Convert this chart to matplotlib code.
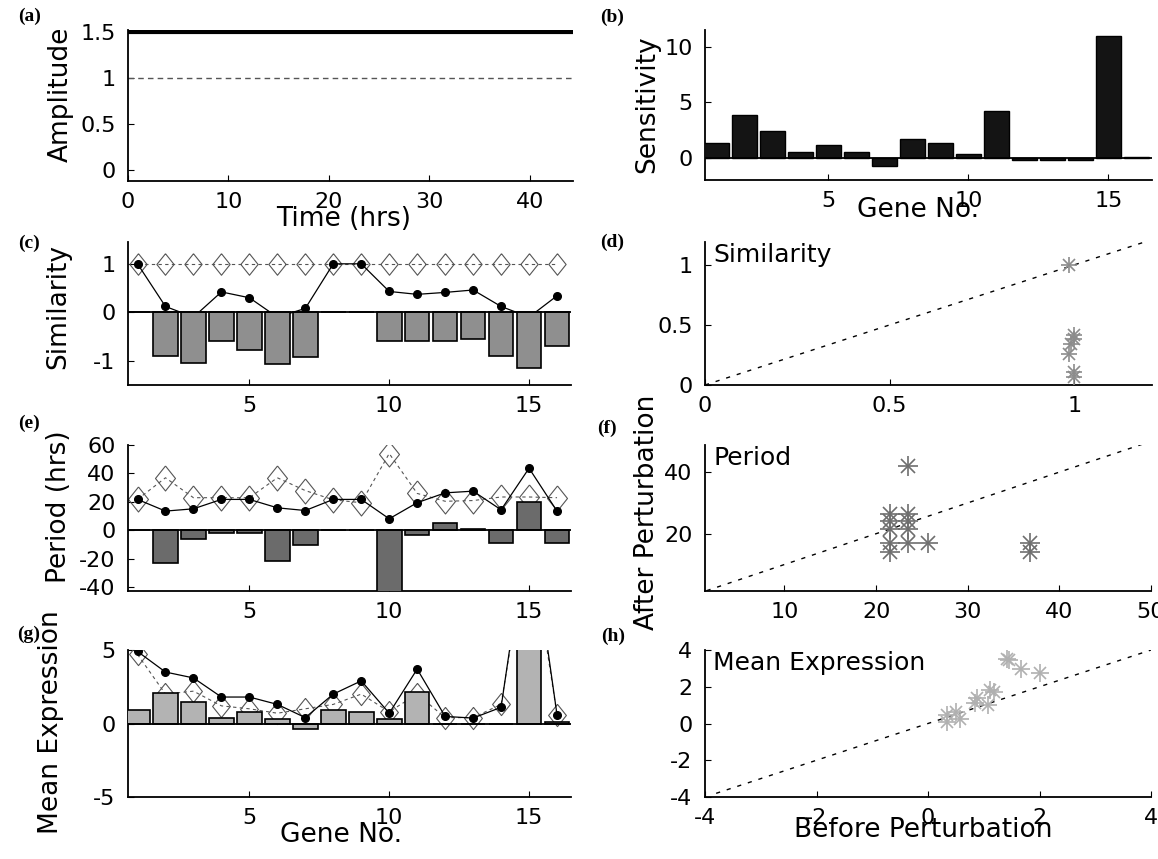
import matplotlib
matplotlib.use('Agg')
import matplotlib.pyplot as plt
import numpy as np
from matplotlib.ticker import FuncFormatter

plt.rcParams['font.family'] = ['DejaVu Sans']

# ---------------- data ----------------
genes = list(range(1, 17))

amp_after = 1.5
amp_before = 1.0

sensitivity = [1.37, 3.86, 2.4, 0.53, 1.17, 0.53, -0.73, 1.7, 1.37, 0.35, 4.24, -0.2, -0.2, -0.2, 10.96, 0.05]

sim_before = [1, 1, 1, 1, 1, 1, 1, 1, 1, 1, 1, 1, 1, 1, 1, 1]
sim_after = [1.0, 0.12, -0.1, 0.42, 0.30, -0.1, 0.08, 1.0, 1.0, 0.43, 0.37, 0.41, 0.46, 0.12, -0.1, 0.34]
sim_change = [0.0, -0.9, -1.04, -0.6, -0.78, -1.07, -0.93, 0.0, 0.0, -0.6, -0.6, -0.6, -0.56, -0.9, -1.15, -0.69]

per_before = [21.8, 37, 23, 23, 23, 37, 28, 21.5, 19.5, 54, 26, 20.5, 21, 23.5, 23.5, 23]
per_after = [21.8, 13.6, 15.2, 21.8, 21.8, 15.9, 14, 21.8, 21.8, 8.2, 19.5, 26.4, 27.6, 14.5, 43.7, 13.6]
per_change = [0, -23, -6, -1.5, -1.5, -21.5, -10, 0, 0, -45, -3.5, 5, 1, -8.5, 20, -8.5]

expr_before = [4.7, 2.0, 2.2, 1.2, 1.0, 0.7, 1.0, 1.3, 2.0, 0.8, 2.0, 0.4, 0.4, 1.3, 13, 0.6]
expr_after = [4.9, 3.5, 3.1, 1.8, 1.8, 1.3, 0.4, 2.0, 2.9, 0.7, 3.7, 0.48, 0.37, 1.1, 14, 0.6]
expr_change = [0.9, 2.1, 1.45, 0.37, 0.76, 0.3, -0.4, 0.92, 0.76, 0.34, 2.15, 0.0, 0.0, 0.0, 11, 0.1]

simsc_x = [0.985, 1.0, 1.0, 0.99, 0.985, 1.0, 1.0]
simsc_y = [1.0, 0.42, 0.38, 0.34, 0.26, 0.11, 0.07]

persc_x = [23.5, 21.5, 23.5, 21.5, 23.5, 21.5, 23.5, 21.5, 23.5, 25.7, 21.5, 36.8, 36.8]
persc_y = [42, 26.4, 26.4, 24.2, 24.2, 21.5, 21.5, 16.9, 16.9, 16.9, 13.9, 16.9, 13.9]

exprsc_x = [1.41, 1.45, 1.67, 2.0, 1.11, 1.18, 0.88, 0.85, 1.08, 0.51, 0.34, 0.57, 0.34]
exprsc_y = [3.53, 3.45, 2.98, 2.75, 1.83, 1.7, 1.37, 1.1, 1.0, 0.64, 0.46, 0.27, 0.09]

# ---------------- figure ----------------
W, H = 1158, 859
fig = plt.figure(figsize=(W / 100, H / 100), dpi=100)

fmt = FuncFormatter(lambda v, p: f'{v:g}')
TICK = 16
LAB = 19
INNER = 18


def add_ax(l, t, r, b):
    ax = fig.add_axes([l / W, 1 - b / H, (r - l) / W, (b - t) / H])
    for s in ('top', 'right'):
        ax.spines[s].set_visible(False)
    for s in ('left', 'bottom'):
        ax.spines[s].set_linewidth(1.3)
    ax.tick_params(direction='in', length=4, width=0.8, labelsize=TICK)
    ax.tick_params(axis='x', pad=8)
    ax.tick_params(axis='y', pad=9)
    ax.xaxis.set_major_formatter(fmt)
    ax.yaxis.set_major_formatter(fmt)
    ax.patch.set_alpha(0)
    return ax


def ftext(x, y, s, **kw):
    fig.text(x / W, 1 - y / H, s, **kw)


def panel_label(x, y, s):
    ftext(x, y, s, fontsize=14, fontweight='bold', family=['Liberation Serif', 'DejaVu Serif'],
          ha='center', va='center')


def ylab(x, y, s):
    ftext(x, y, s, fontsize=LAB, rotation=90, ha='center', va='center')


def xlab(x, y, s):
    ftext(x, y, s, fontsize=LAB, ha='center', va='center')


diamond = [(0, 1), (0.8, 0), (0, -1), (-0.8, 0), (0, 1)]


def gene_panel(ax, before, after, change, barcolor, dsize):
    ax.plot(genes, before, ls=(0, (3, 3)), lw=0.8, color='#555555', marker=diamond,
            ms=dsize, mfc='none', mec='#555555', mew=0.8, zorder=2)
    ax.plot(genes, after, ls='-', lw=0.9, color='black', marker='o', ms=5.5,
            mfc='black', mec='black', zorder=2.5)
    ax.bar(genes, change, width=0.88, color=barcolor, edgecolor='black', lw=1.2, zorder=3)
    ax.axhline(0, color='black', lw=1.3, zorder=4)
    ax.set_xlim(0.66, 16.5)
    ax.set_xticks([5, 10, 15])


def stars(ax, x, y, color, size):
    ax.plot(x, y, ls='none', marker='+', ms=size, mew=1.2, color=color, zorder=3)
    ax.plot(x, y, ls='none', marker='x', ms=size * 0.7, mew=1.2, color=color, zorder=3)


def inner_text(ax, s):
    ax.text(0.018, 0.99, s, transform=ax.transAxes, fontsize=INNER, ha='left', va='top')


# (a)
ax = add_ax(128, 30, 573, 181)
ax.axhline(amp_after, color='black', lw=3)
ax.axhline(amp_before, color='#555555', lw=1.0, ls=(0, (4, 3)))
ax.set_xlim(0, 44.3)
ax.set_ylim(-0.12, 1.52)
ax.set_xticks([0, 10, 20, 30, 40])
ax.set_yticks([0, 0.5, 1, 1.5])
panel_label(30, 16, '(a)')
ylab(61, 94, 'Amplitude')
xlab(344, 219, 'Time (hrs)')

# (b)
ax = add_ax(705, 30, 1152, 180)
ax.bar(genes, sensitivity, width=0.9, color='#141414', edgecolor='black', lw=1, zorder=3)
ax.axhline(0, color='black', lw=1.3, zorder=4)
ax.set_xlim(0.6, 16.56)
ax.set_ylim(-2, 11.5)
ax.set_xticks([5, 10, 15])
ax.set_yticks([0, 5, 10])
panel_label(612, 17, '(b)')
ylab(647, 104, 'Sensitivity')
xlab(918, 210, 'Gene No.')

# (c)
ax = add_ax(128, 242, 571, 385)
gene_panel(ax, sim_before, sim_after, sim_change, '#8f8f8f', 15.5)
ax.set_ylim(-1.5, 1.45)
ax.set_yticks([-1, 0, 1])
panel_label(29, 243, '(c)')
ylab(58, 306, 'Similarity')

# (d)
ax = add_ax(705, 242, 1152, 385)
lim_d = np.array([0, 1.25])
ax.plot(lim_d, lim_d, color='black', lw=1, ls=(0, (3, 5)), zorder=2)
stars(ax, simsc_x, simsc_y, '#8c8c8c', 12)
ax.set_xlim(0, 1.21)
ax.set_ylim(0, 1.19)
ax.set_xticks([0, 0.5, 1])
ax.set_yticks([0, 0.5, 1])
inner_text(ax, 'Similarity')
panel_label(612, 242, '(d)')

# (e)
ax = add_ax(128, 445, 571, 591)
gene_panel(ax, per_before, per_after, per_change, '#6b6b6b', 18)
ax.set_ylim(-42.5, 60)
ax.set_yticks([-40, -20, 0, 20, 40, 60])
panel_label(29, 423, '(e)')
ylab(59, 507, 'Period (hrs)')

# (f)
ax = add_ax(705, 445, 1151, 591)
lim_f = np.array([1.5, 50])
ax.plot(lim_f, lim_f, color='black', lw=1, ls=(0, (3, 5)), zorder=2)
stars(ax, persc_x, persc_y, '#6e6e6e', 14)
ax.set_xlim(1.33, 50)
ax.set_ylim(1.4, 48.8)
ax.set_xticks([10, 20, 30, 40, 50])
ax.set_yticks([20, 40])
inner_text(ax, 'Period')
panel_label(607, 428, '(f)')
ylab(647, 512, 'After Perturbation')

# (g)
ax = add_ax(128, 650, 571, 797)
gene_panel(ax, expr_before, expr_after, expr_change, '#b3b3b3', 16)
ax.set_ylim(-5, 5)
ax.set_yticks([-5, 0, 5])
panel_label(29, 634, '(g)')
ylab(51, 722, 'Mean Expression')
xlab(341, 835, 'Gene No.')

# (h)
ax = add_ax(705, 650, 1151, 797)
lim_h = np.array([-3.8, 4])
ax.plot(lim_h, lim_h, color='black', lw=1, ls=(0, (3, 5)), zorder=2)
stars(ax, exprsc_x, exprsc_y, '#b0b0b0', 13)
ax.set_xlim(-4, 4)
ax.set_ylim(-4, 4)
ax.set_xticks([-4, -2, 0, 2, 4])
ax.set_yticks([-4, -2, 0, 2, 4])
inner_text(ax, 'Mean Expression')
panel_label(613, 636, '(h)')
xlab(923, 830, 'Before Perturbation')

fig.savefig('out.png', dpi=100)
